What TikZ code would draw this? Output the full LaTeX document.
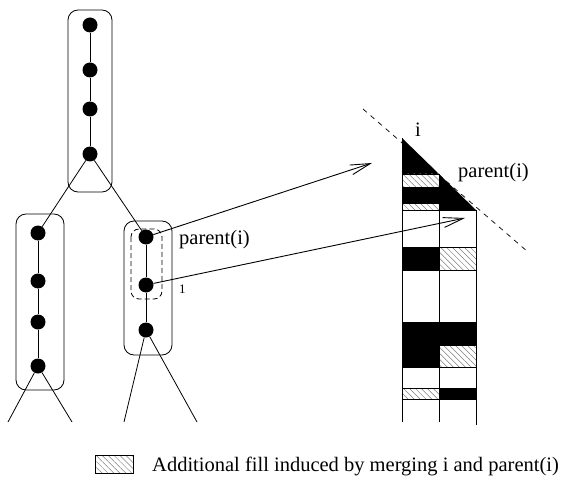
\documentclass[tikz,border=0pt]{standalone}
\usepackage{fontspec}
\setmainfont{Liberation Serif}
\usetikzlibrary{arrows.meta,patterns.meta}
\begin{document}
\begin{tikzpicture}[x=1pt,y=-1pt,
  dot/.style={circle,fill=black,inner sep=0pt,minimum size=15pt},
  grp/.style={draw,rounded corners=10pt,line width=0.8pt},
  edge/.style={line width=0.8pt},
  arr/.style={line width=0.9pt,-{Straight Barb[length=20pt,width=10pt,line width=0.9pt]}},
  hatch/.style={preaction={fill=white},pattern={Lines[angle=-45,distance=4.2pt,line width=0.5pt]},pattern color=gray,draw,line width=0.7pt},
  blk/.style={fill=black,draw,line width=0.7pt},
  lbl/.style={inner sep=0pt,font=\fontsize{20.5}{24}\selectfont},
  small/.style={inner sep=0pt,font=\fontsize{13}{15}\selectfont}]
\useasboundingbox (0,0) rectangle (569,478);

% group boxes
\draw[grp] (68,10) rectangle (112,192);
\draw[grp] (16,214) rectangle (64,390);
\draw[grp] (124,221) rectangle (172,355);
\draw[line width=0.8pt,dashed,dash pattern=on 5pt off 3pt,rounded corners=8pt] (131,229) rectangle (162,299);

% dots
\node[dot] (a1) at (90,25) {};
\node[dot] (a2) at (90,70) {};
\node[dot] (a3) at (90,109) {};
\node[dot] (a4) at (90,154) {};
\node[dot] (b1) at (38,233) {};
\node[dot] (b2) at (38,281) {};
\node[dot] (b3) at (38,322) {};
\node[dot] (b4) at (38,366) {};
\node[dot] (c1) at (146,237) {};
\node[dot] (c2) at (146,285) {};
\node[dot] (c3) at (146,330) {};

\coordinate (bl) at (8,422);
\coordinate (br) at (72,422);
\coordinate (cl) at (124,422);
\coordinate (cr) at (197,422);

\draw[edge] (a1) -- (a2) -- (a3) -- (a4);
\draw[edge] (b1) -- (b2) -- (b3) -- (b4);
\draw[edge] (c1) -- (c2) -- (c3);
\draw[edge] (a4) -- (b1);
\draw[edge] (a4) -- (c1);
\draw[edge] (b4) -- (bl);
\draw[edge] (b4) -- (br);
\draw[edge] (c3) -- (cl);
\draw[edge] (c3) -- (cr);

\node[lbl,anchor=west] (pl) at (179,240) {parent(i)};
\node[small,anchor=west] (il) at (179,289) {1};

% matrix
\fill[black] (402,138) -- (476,210) -- (402,210) -- cycle;
\draw[hatch] (402,174) rectangle (439,187);
\draw[hatch] (402,203) rectangle (439,210);

\draw[blk] (402,247) rectangle (439,270);
\draw[hatch] (439,247) rectangle (476,270);
\draw[blk] (402,322) rectangle (476,345);
\draw[blk] (402,345) rectangle (439,367);
\draw[hatch] (439,345) rectangle (476,367);
\draw[hatch] (402,388) rectangle (439,399);
\draw[blk] (439,388) rectangle (476,399);

\draw[edge] (402,138) -- (402,422);
\draw[edge] (439,174) -- (439,422);
\draw[edge] (476,210) -- (476,425);
\foreach \yy in {210,247,270,322,367,388,399}
  \draw[edge] (402,\yy) -- (476,\yy);

\draw[line width=0.7pt,dash pattern=on 5pt off 5pt] (363,109) -- (528,252);

\node[lbl,anchor=base] (ti) at (418,137) {i};
\node[lbl,anchor=west] (tp) at (458,173) {parent(i)};

% arrows
\coordinate (t1) at (372,163);
\coordinate (t2) at (465,218);
\draw[arr] (c1) -- (t1);
\draw[arr] (c2) -- (t2);

% legend
\draw[hatch] (95,455) rectangle (133,473);
\node[lbl,anchor=west] (leg) at (152,466) {Additional fill induced by merging i and parent(i)};
\end{tikzpicture}
\end{document}
